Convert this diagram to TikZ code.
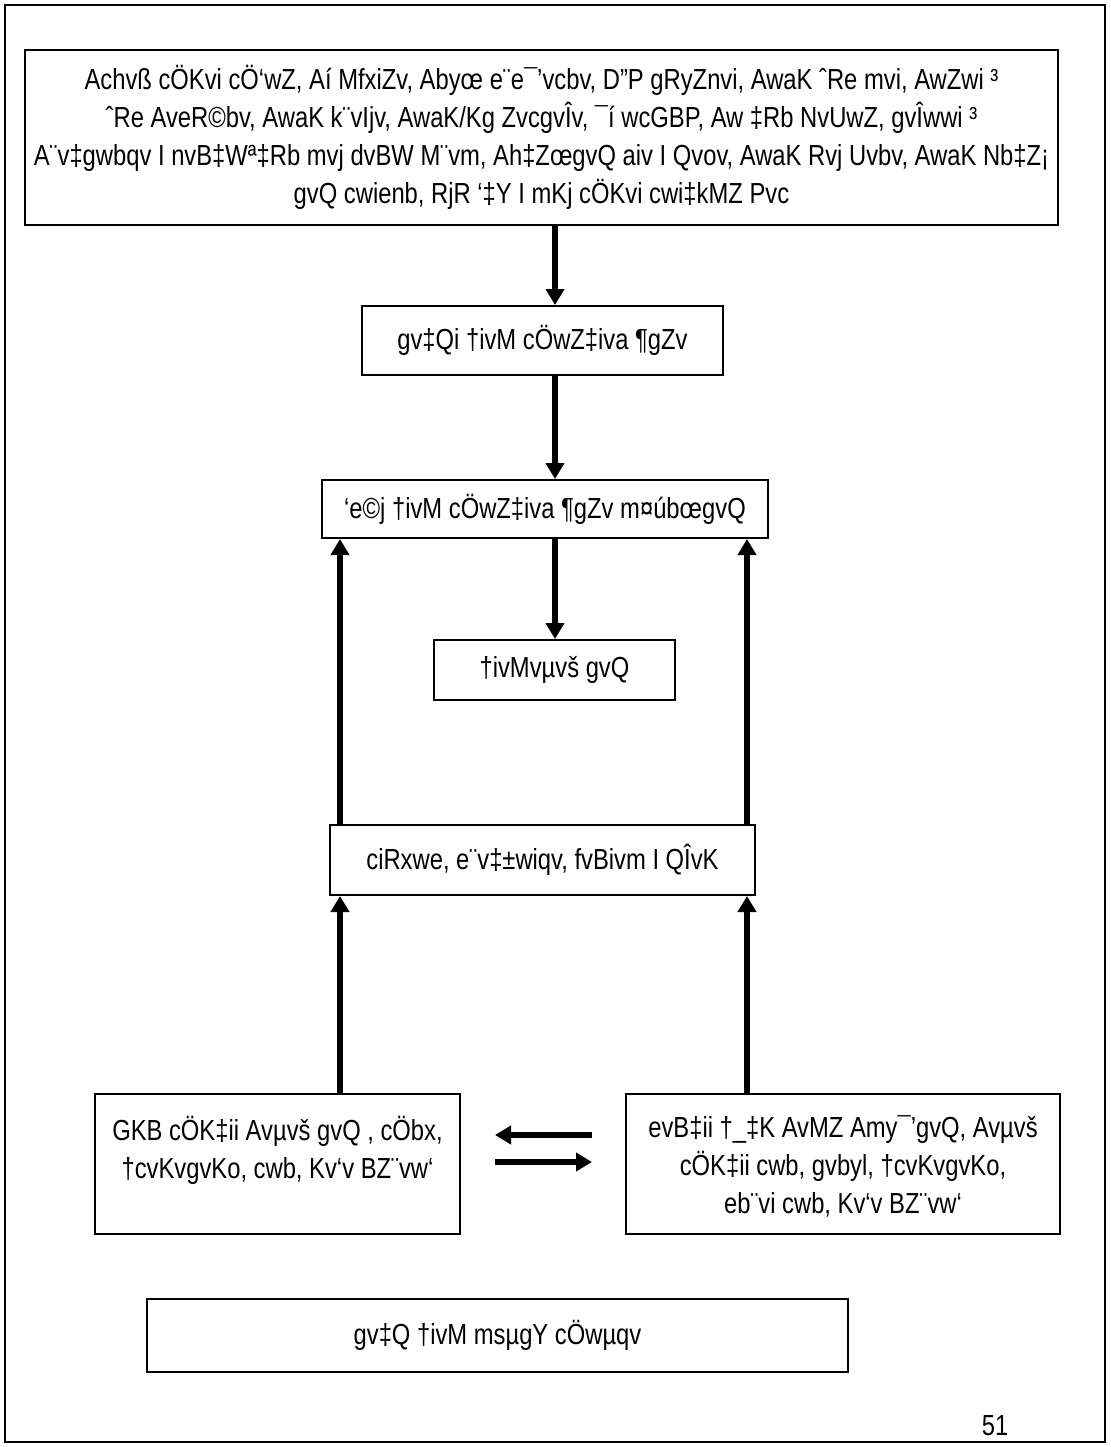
\documentclass[tikz,border=0pt]{standalone}
\usepackage{fontspec}
\setmainfont{Liberation Sans}[FakeStretch=0.82]
\usetikzlibrary{arrows.meta,positioning}

\begin{document}
\begin{tikzpicture}[x=0.5pt,y=-0.5pt,->,>={Triangle[length=8pt,width=9pt]},line width=2.7pt]
\tikzstyle{every node}=[font=\fontsize{14.5}{19}\selectfont]
\tikzstyle{box}=[draw,line width=1pt,align=center,inner sep=0pt]

\useasboundingbox (0,0) rectangle (1110,1447);
\draw[-,line width=1pt] (5,5) rectangle (1105,1442);

\node[box,minimum width=516.5pt,minimum height=87.5pt] (A) at (541.5,137.5)
  {Achvß cÖKvi cÖ`wZ, Aí MfxiZv, Abyœ e¨e¯'vcbv, D"P gRyZnvi, AwaK ˆRe mvi, AwZwi ³\\
   ˆRe AveR©bv, AwaK k¨vIjv, AwaK/Kg ZvcgvÎv, ¯í wcGBP, Aw ‡Rb NvUwZ, gvÎwwi ³\\
   A¨v‡gwbqv I nvB‡Wª‡Rb mvj dvBW M¨vm, Ah‡ZœgvQ aiv I Qvov, AwaK Rvj Uvbv, AwaK Nb‡Z¡\\
   gvQ cwienb, RjR `‡Y I mKj cÖKvi cwi‡kMZ Pvc};
\node[box,minimum width=180.5pt,minimum height=34.5pt] (B) at (542.5,340.5) {gv‡Qi †ivM cÖwZ‡iva ¶gZv};
\node[box,minimum width=223pt,minimum height=29pt] (C) at (545,509) {`e©j †ivM cÖwZ‡iva ¶gZv m¤úbœgvQ};
\node[box,minimum width=120.5pt,minimum height=30pt] (D) at (554.5,670) {†ivMvµvš gvQ};
\node[box,minimum width=212.5pt,minimum height=35pt] (E) at (542.5,860) {ciRxwe, e¨v‡±wiqv, fvBivm I QÎvK};
\node[box] (F) at (277.5,1164)
  {\parbox[c][70pt][t]{182.5pt}{\centering\vspace*{11pt}GKB cÖK‡ii Avµvš gvQ , cÖbx,\\ †cvKvgvKo, cwb, Kv`v BZ¨vw`}};
\node[box] (G) at (843,1164)
  {\parbox[c][70pt][t]{217pt}{\centering\vspace*{11pt}evB‡ii †\_‡K AvMZ Amy¯'gvQ, Avµvš\\ cÖK‡ii cwb, gvbyl, †cvKvgvKo,\\ eb¨vi cwb, Kv`v BZ¨vw`}};
\node[box,minimum width=350.5pt,minimum height=36.5pt] (H) at (497.5,1335.5) {gv‡Q †ivM msµgY cÖwµqv};
\node (pg) at (995,1426) {51};

\coordinate (m) at (555,0);
\coordinate (l) at (340,0);
\coordinate (r) at (747,0);
\coordinate (x1) at (592,1135);
\coordinate (x2) at (495,1135);
\coordinate (x3) at (495,1162);
\coordinate (x4) at (592,1162);

\draw (A.south -| m) -- (B.north -| m);
\draw (B.south -| m) -- (C.north -| m);
\draw (C.south -| m) -- (D.north -| m);
\draw (E.north -| l) -- (C.south -| l);
\draw (E.north -| r) -- (C.south -| r);
\draw (F.north -| l) -- (E.south -| l);
\draw (G.north -| r) -- (E.south -| r);
\draw (x1) -- (x2);
\draw (x3) -- (x4);
\end{tikzpicture}
\end{document}
